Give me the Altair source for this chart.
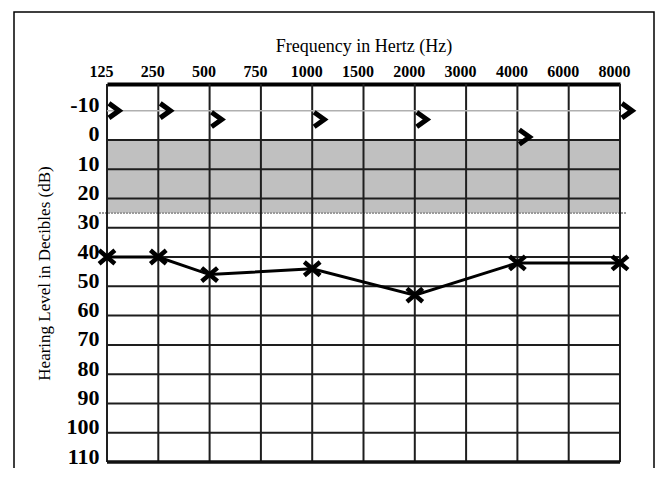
import altair as alt
import pandas as pd

# ---- data ----
FREQ_LABELS = ["125", "250", "500", "750", "1000", "1500", "2000", "3000", "4000", "6000", "8000"]
DB_LEVELS = [-10, 0, 10, 20, 30, 40, 50, 60, 70, 80, 90, 100, 110]

# X symbols (air conduction) joined by a line
AIR_FREQ = ["125", "250", "500", "1000", "2000", "4000", "8000"]
AIR_DB = [40, 40, 46, 44, 53, 42, 42]

# ">" symbols (bone conduction)
BONE_FREQ = ["125", "250", "500", "1000", "2000", "4000", "8000"]
BONE_DB = [-10, -10, -7, -7, -7, -1, -10]

NORMAL_TOP = 0
NORMAL_BOTTOM = 25

W, H = 513, 378
FONT = "Liberation Serif"

x_scale = alt.Scale(type="point", domain=FREQ_LABELS, padding=0)
y_scale = alt.Scale(domain=[-19.1, 110], reverse=True, nice=False, zero=False)

air = pd.DataFrame({"freq": AIR_FREQ, "db": AIR_DB, "idx": list(range(len(AIR_FREQ)))})
bone = pd.DataFrame({"freq": BONE_FREQ, "db": BONE_DB})
band = pd.DataFrame({"lo": [NORMAL_TOP], "hi": [NORMAL_BOTTOM]})
cut = pd.DataFrame({"db": [NORMAL_BOTTOM]})
vlines = pd.DataFrame({"freq": FREQ_LABELS})
hdark = pd.DataFrame({"db": [d for d in DB_LEVELS if 0 <= d < 110]})
hbottom = pd.DataFrame({"db": [DB_LEVELS[-1]]})
hlight = pd.DataFrame({"db": [DB_LEVELS[0]]})

x_axis = alt.Axis(
    orient="top", title="Frequency in Hertz (Hz)", labelAngle=0, labelAlign="center",
    labelBaseline="bottom", ticks=False, grid=False,
    labelFont=FONT, labelFontSize=16, labelFontWeight="bold", labelColor="black",
    labelPadding=5, labelOffset=-6, labelOverlap=False,
    titleFont=FONT, titleFontSize=18, titleFontWeight="normal", titleColor="black", titlePadding=8,
    domain=True, domainColor="black", domainWidth=4,
)
y_axis = alt.Axis(
    title="Hearing Level in Decibles (dB)", values=DB_LEVELS, ticks=False, grid=False, domain=False,
    labelExpr="'' + datum.value", labelAlign="right",
    labelFont=FONT, labelFontSize=22, labelFontWeight="bold", labelColor="black",
    labelPadding=8, labelOffset=-6, labelFlush=False, labelOverlap=False,
    titleFont=FONT, titleFontSize=17, titleFontWeight="normal", titleColor="black", titlePadding=13,
)

band_layer = alt.Chart(band).mark_rect(color="#c0c0c0").encode(
    x=alt.value(0), x2=alt.value(W),
    y=alt.Y("lo:Q", scale=y_scale, axis=y_axis), y2="hi:Q",
)

cut_layer = alt.Chart(cut).mark_rule(color="#9a9a9a", strokeWidth=2, strokeDash=[2, 1]).encode(
    x=alt.value(-8), x2=alt.value(W + 7), y=alt.Y("db:Q", scale=y_scale, axis=y_axis),
)

vgrid = alt.Chart(vlines).mark_rule(color="#1e1e1e", strokeWidth=2).encode(
    x=alt.X("freq:O", scale=x_scale, sort=FREQ_LABELS, axis=x_axis),
)
hgrid = alt.Chart(hdark).mark_rule(color="#1e1e1e", strokeWidth=2).encode(
    y=alt.Y("db:Q", scale=y_scale, axis=y_axis),
)
hbot = alt.Chart(hbottom).mark_rule(color="#111111", strokeWidth=3.5).encode(
    y=alt.Y("db:Q", scale=y_scale, axis=y_axis),
)
hlite = alt.Chart(hlight).mark_rule(color="#b0b0b0", strokeWidth=1.5).encode(
    y=alt.Y("db:Q", scale=y_scale, axis=y_axis),
)

air_line = alt.Chart(air).mark_line(color="black", strokeWidth=3).encode(
    x=alt.X("freq:O", scale=x_scale, sort=FREQ_LABELS, axis=x_axis),
    y=alt.Y("db:Q", scale=y_scale, axis=y_axis),
    order="idx:Q",
)
air_pts = alt.Chart(air).mark_point(
    shape="M -1 -0.85 L 1 0.85 M -1 0.85 L 1 -0.85", filled=False, color="black",
    strokeWidth=4.5, size=250, opacity=1,
).encode(
    x=alt.X("freq:O", scale=x_scale, sort=FREQ_LABELS, axis=x_axis),
    y=alt.Y("db:Q", scale=y_scale, axis=y_axis),
)
bone_pts = alt.Chart(bone).mark_point(
    shape="M -0.7 -1 L 0.7 0 L -0.7 1", filled=False, color="black",
    strokeWidth=5, size=210, opacity=1, xOffset=7, strokeJoin="miter", strokeCap="butt",
).encode(
    x=alt.X("freq:O", scale=x_scale, sort=FREQ_LABELS, axis=x_axis),
    y=alt.Y("db:Q", scale=y_scale, axis=y_axis),
)

frame = alt.Chart(pd.DataFrame({"k": [0]})).mark_rect(
    filled=False, stroke="black", strokeWidth=1.5, fill=None
).encode(
    x=alt.value(-93), x2=alt.value(547), y=alt.value(-72), y2=alt.value(H + 60),
)

chart = alt.layer(
    band_layer, cut_layer, vgrid, hgrid, hbot, hlite,
    air_line, air_pts, bone_pts, frame,
).properties(
    width=W, height=H,
    autosize=alt.AutoSizeParams(type="none"),
    padding={"left": 99, "top": 76, "right": 36, "bottom": 6},
).configure_view(
    stroke="#1e1e1e", strokeWidth=2,
).configure_axisY(
    labelOverlap=False, labelFontSize=22,
).configure_axisX(
    labelOverlap=False, labelAlign="center",
).configure(background="white")

chart.save("out.html", embed_options={"renderer": "svg", "actions": False})
